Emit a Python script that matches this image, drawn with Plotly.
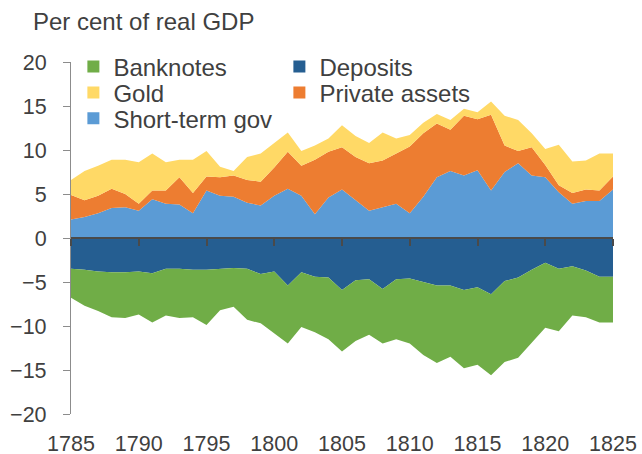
import plotly.graph_objects as go

years = list(range(1785, 1826))

short_term_gov = [2.1, 2.4, 2.8, 3.4, 3.5, 3.1, 4.4, 3.9, 3.8, 2.8,
                  5.4, 4.8, 4.7, 4.0, 3.7, 4.8, 5.6, 4.8, 2.7, 4.6,
                  5.5, 4.3, 3.1, 3.5, 3.9, 2.8, 4.7, 6.9, 7.6, 7.1,
                  7.7, 5.4, 7.5, 8.5, 7.1, 6.9, 5.2, 3.9, 4.2, 4.2, 5.5]
private_assets = [2.8, 1.9, 2.0, 2.2, 1.5, 0.8, 1.0, 1.5, 3.1, 2.3,
                  1.6, 2.1, 2.4, 2.6, 2.7, 3.2, 4.2, 3.4, 6.2, 5.2,
                  4.8, 4.9, 5.4, 5.3, 5.7, 7.6, 7.2, 6.1, 4.7, 6.8,
                  5.8, 8.6, 3.0, 1.4, 3.2, 1.4, 0.8, 1.2, 1.3, 1.2, 1.5]
gold = [1.7, 3.3, 3.4, 3.3, 3.9, 4.7, 4.2, 3.2, 2.0, 3.8,
        2.9, 1.2, 0.5, 2.6, 3.2, 2.8, 2.2, 1.7, 1.6, 1.5,
        2.5, 2.4, 2.3, 3.2, 1.7, 1.3, 1.2, 1.1, 1.1, 0.8,
        0.8, 1.5, 3.4, 3.5, 1.6, 1.8, 4.6, 3.6, 3.3, 4.2, 2.6]
deposits = [-3.5, -3.6, -3.8, -3.9, -3.9, -3.8, -4.0, -3.5, -3.5, -3.6,
            -3.6, -3.5, -3.4, -3.5, -4.1, -3.8, -5.4, -3.9, -4.4, -4.5,
            -5.9, -4.8, -4.7, -5.8, -4.7, -4.6, -5.0, -5.4, -5.4, -5.9,
            -5.6, -6.4, -4.9, -4.5, -3.6, -2.8, -3.5, -3.2, -3.7, -4.4, -4.4]
banknotes = [-3.3, -4.1, -4.5, -5.1, -5.2, -4.9, -5.6, -5.3, -5.6, -5.4,
             -6.3, -4.7, -4.4, -5.8, -5.6, -7.0, -6.6, -6.2, -6.3, -7.0,
             -7.0, -6.9, -6.3, -6.2, -6.8, -7.4, -8.3, -8.8, -8.1, -8.9,
             -8.8, -9.2, -9.2, -9.1, -8.3, -7.4, -7.1, -5.6, -5.3, -5.2, -5.2]

colors = {
    "Banknotes": "#70AD47",
    "Deposits": "#255E91",
    "Gold": "#FFD966",
    "Private assets": "#ED7D31",
    "Short-term gov": "#5B9BD5",
}

FONT = "Liberation Sans, Arial, sans-serif"
TXT = "#404040"

fig = go.Figure()

def area(name, vals, group):
    fig.add_trace(go.Scatter(
        x=years, y=vals, name=name, stackgroup=group,
        mode="lines", line=dict(width=0, color=colors[name]),
        fillcolor=colors[name], showlegend=False, hoverinfo="x+y+name"))

area("Short-term gov", short_term_gov, "pos")
area("Private assets", private_assets, "pos")
area("Gold", gold, "pos")
area("Deposits", deposits, "neg")
area("Banknotes", banknotes, "neg")

# zero axis line with ticks
fig.add_trace(go.Scatter(x=[years[0]], y=[0], xaxis="x2", mode="lines",
                         showlegend=False, hoverinfo="skip",
                         line=dict(width=0)))

# legend entries
rows = [("legend", ["Banknotes", "Deposits"]),
        ("legend2", ["Gold", "Private assets"]),
        ("legend3", ["Short-term gov"])]
for lg, names in rows:
    for nm in names:
        fig.add_trace(go.Scatter(
            x=[None], y=[None], name=nm, mode="markers", legend=lg,
            marker=dict(symbol="square", size=11, color=colors[nm]),
            showlegend=True))

legend_common = dict(orientation="h", xanchor="left", yanchor="middle",
                     x=0.0044, entrywidth=161, bgcolor="rgba(0,0,0,0)",
                     font=dict(family=FONT, size=24, color=TXT),
                     itemsizing="constant", tracegroupgap=0,
                     traceorder="normal")

fig.update_layout(
    width=642, height=454,
    margin=dict(l=71, r=29, t=62, b=40),
    paper_bgcolor="white", plot_bgcolor="white",
    font=dict(family=FONT, size=21.5, color=TXT),
    showlegend=True,
    legend=dict(legend_common, y=0.986),
    legend2=dict(legend_common, y=0.912),
    legend3=dict(legend_common, y=0.839),
    xaxis=dict(range=[1785, 1825], tickmode="array",
               tickvals=list(range(1785, 1826, 5)),
               ticktext=[str(v) for v in range(1785, 1826, 5)],
               showline=False, showgrid=False, zeroline=False,
               ticks="", ticklabelstandoff=14, automargin=False,
               tickfont=dict(family=FONT, size=21.5, color=TXT)),
    xaxis2=dict(range=[1785, 1825], overlaying="x", anchor="free",
                position=0.5, side="bottom", showline=True,
                linecolor="#4A4A4A", linewidth=1.5,
                ticks="outside", ticklen=7, tickwidth=1.5,
                tickcolor="#4A4A4A", tickvals=list(range(1785, 1826, 5)),
                showticklabels=False, showgrid=False, zeroline=False,
                automargin=False, layer="above traces"),
    yaxis=dict(range=[-20, 20], tickvals=list(range(-20, 21, 5)),
               showline=True, linecolor="#8C8C8C", linewidth=1.2,
               ticks="outside", ticklen=7, tickcolor="#8C8C8C",
               ticklabelstandoff=12, automargin=False,
               showgrid=False, zeroline=False,
               tickfont=dict(family=FONT, size=21.5, color=TXT)),
    annotations=[dict(text="Per cent of real GDP", xref="paper", yref="paper",
                      x=(31 - 71) / 542, y=(414 - 21) / 352,
                      xanchor="left", yanchor="middle", showarrow=False,
                      font=dict(family=FONT, size=24, color=TXT))],
)

fig.write_html("out.html", config={"displayModeBar": False},
               post_script="document.body.style.margin='0';")
